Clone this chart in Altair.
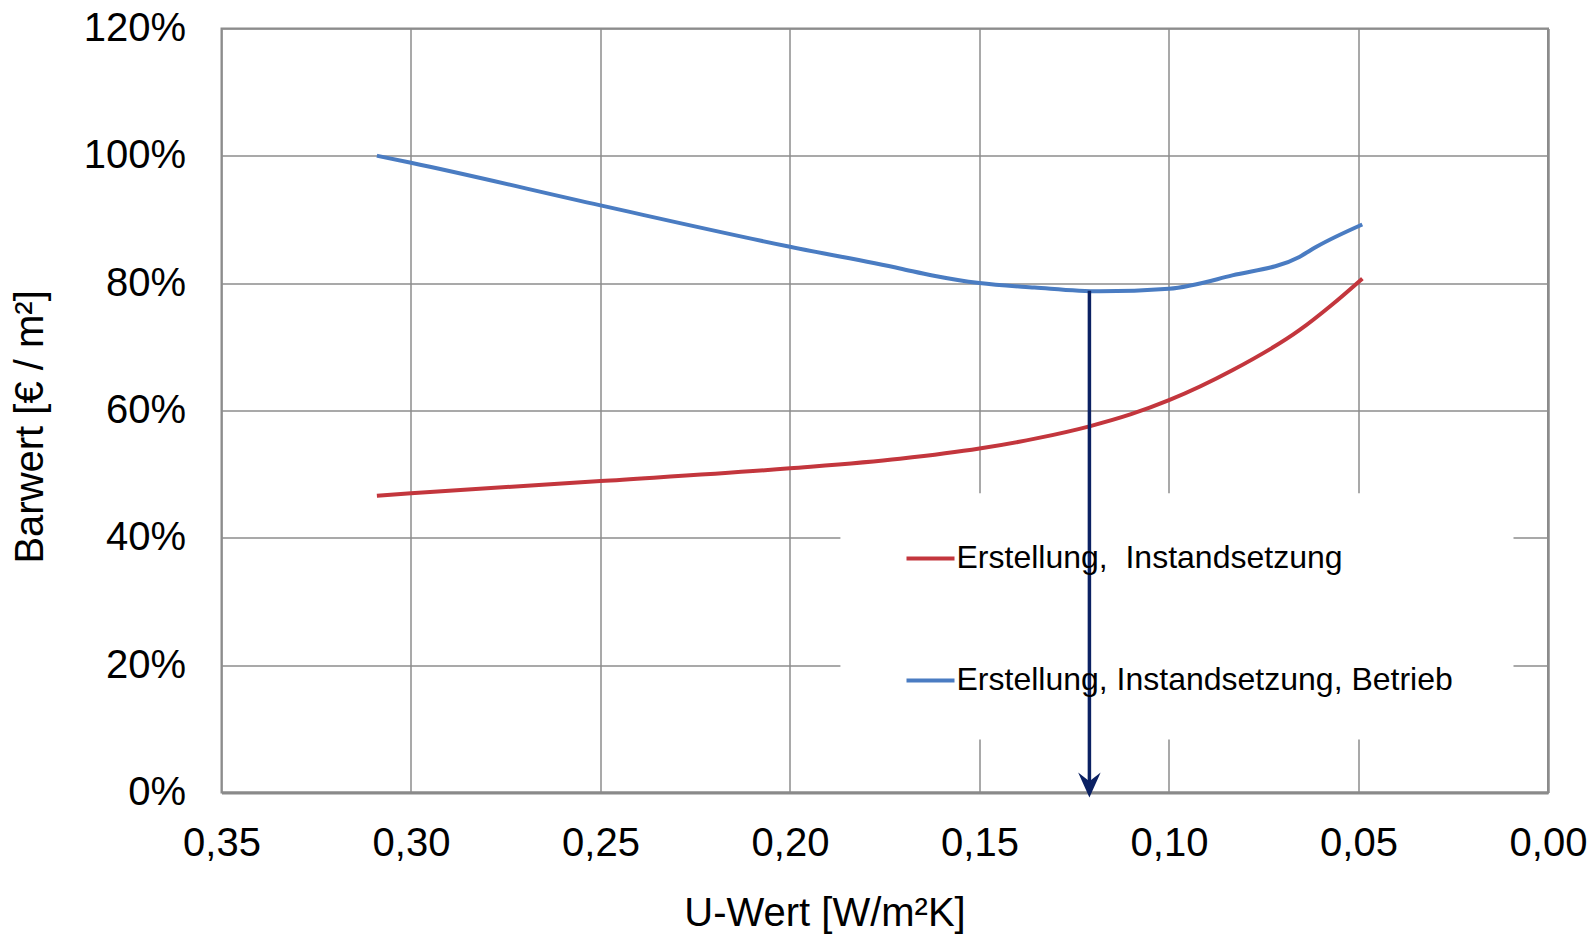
import altair as alt
import pandas as pd

# --- data ---
red_label = "Erstellung,\u00a0 Instandsetzung"
blue_label = "Erstellung, Instandsetzung, Betrieb"

red_u = [0.309, 0.30, 0.25, 0.20, 0.171, 0.15, 0.135, 0.121, 0.11, 0.10, 0.0833, 0.0656, 0.057, 0.049]
red_v = [46.6, 47.0, 48.9, 50.9, 52.4, 54.0, 55.6, 57.5, 59.4, 61.6, 66.3, 72.6, 76.6, 80.7]

blue_u = [0.309, 0.30, 0.25, 0.20, 0.171, 0.1624, 0.15, 0.1355, 0.1183, 0.10, 0.0833, 0.0656, 0.0611, 0.049]
blue_v = [100.0, 98.9, 92.2, 85.7, 82.3, 81.2, 80.0, 79.3, 78.7, 79.1, 81.2, 84.1, 85.7, 89.2]

arrow_u = [0.121]
arrow_top = [78.8]
arrow_bottom = [0.0]

# legend background box (data units)
legend_box_u = [0.1867, 0.0091]
legend_box_v = [47.0, 8.3]

x_ticks = [0.35, 0.30, 0.25, 0.20, 0.15, 0.10, 0.05, 0.0]
y_ticks = [0, 20, 40, 60, 80, 100, 120]

RED = "#c3363d"
BLUE = "#4a7cc2"
NAVY = "#0b2163"
GRID = "#8c8c8c"
FONT = "Liberation Sans"

lines = pd.concat([
    pd.DataFrame({"u": red_u, "v": red_v, "serie": red_label}),
    pd.DataFrame({"u": blue_u, "v": blue_v, "serie": blue_label}),
])

xscale = alt.Scale(domain=[0, 0.35], reverse=True, nice=False, zero=False)
yscale = alt.Scale(domain=[0, 120], nice=False)

xaxis = alt.Axis(
    values=x_ticks,
    labelExpr="replace(format(datum.value, '.2f'), '.', ',')",
    title="U-Wert [W/m²K]",
    grid=True, gridColor=GRID, gridWidth=1.5, gridOpacity=1,
    ticks=False, domain=True, domainColor="#8a8a8a", domainWidth=3,
    labelFont=FONT, labelFontSize=40, labelColor="#000000", labelPadding=31,
    labelFlush=False, labelOverlap=False,
    titleFont=FONT, titleFontSize=40, titleFontWeight="normal", titleColor="#000000",
    titlePadding=30, titleX=603, titleAlign="center", titleAnchor="start",
)
yaxis = alt.Axis(
    values=y_ticks,
    labelExpr="datum.value + '%'",
    title="Barwert [€ / m²]",
    grid=True, gridColor=GRID, gridWidth=1.5, gridOpacity=1,
    ticks=False, domain=False,
    labelFont=FONT, labelFontSize=40, labelColor="#000000", labelPadding=36,
    labelFlush=False, labelOverlap=False,
    titleFont=FONT, titleFontSize=40, titleFontWeight="normal", titleColor="#000000",
    titlePadding=33, titleY=398, titleAlign="center", titleAnchor="start",
)

box_df = pd.DataFrame({"u1": [legend_box_u[0]], "u2": [legend_box_u[1]],
                       "v1": [legend_box_v[0]], "v2": [legend_box_v[1]]})
box = alt.Chart(box_df).mark_rect(color="white").encode(
    x=alt.X("u1:Q", scale=xscale, axis=xaxis),
    x2="u2:Q",
    y=alt.Y("v1:Q", scale=yscale, axis=yaxis),
    y2="v2:Q",
)

line_chart = alt.Chart(lines).mark_line(strokeWidth=4, interpolate="monotone").encode(
    x=alt.X("u:Q", scale=xscale),
    y=alt.Y("v:Q", scale=yscale),
    color=alt.Color(
        "serie:N",
        scale=alt.Scale(domain=[red_label, blue_label], range=[RED, BLUE]),
        sort=[red_label, blue_label],
        legend=alt.Legend(
            title=None, orient="none", legendX=683, legendY=504,
            direction="vertical", symbolType="stroke", symbolSize=2304,
            symbolStrokeWidth=4, labelFont=FONT, labelFontSize=32,
            labelColor="#000000", labelLimit=900, labelOffset=0,
            rowPadding=80, padding=0,
        ),
    ),
)

arrow_df = pd.DataFrame({"u": arrow_u, "top": arrow_top, "bottom": arrow_bottom})
arrow_line = alt.Chart(arrow_df).mark_rule(color=NAVY, strokeWidth=3.5).encode(
    x=alt.X("u:Q", scale=xscale),
    y=alt.Y("top:Q", scale=yscale),
    y2="bottom:Q",
)
arrow_head = alt.Chart(arrow_df).mark_point(
    shape="M0,0.4 L-0.9,-1.6 L0,-0.9 L0.9,-1.6 Z",
    size=625, filled=True, color=NAVY, opacity=1,
).encode(
    x=alt.X("u:Q", scale=xscale),
    y=alt.Y("bottom:Q", scale=yscale),
)

chart = alt.layer(box, line_chart, arrow_line, arrow_head).properties(
    width=1326.5, height=764,
    autosize=alt.AutoSizeParams(type="none"),
    padding={"left": 221.5, "top": 28.4, "right": 45, "bottom": 143.6},
    background="white",
).configure_view(stroke="#8a8a8a", strokeWidth=2)

chart.save("out.html", embed_options={"renderer": "svg", "actions": False})
